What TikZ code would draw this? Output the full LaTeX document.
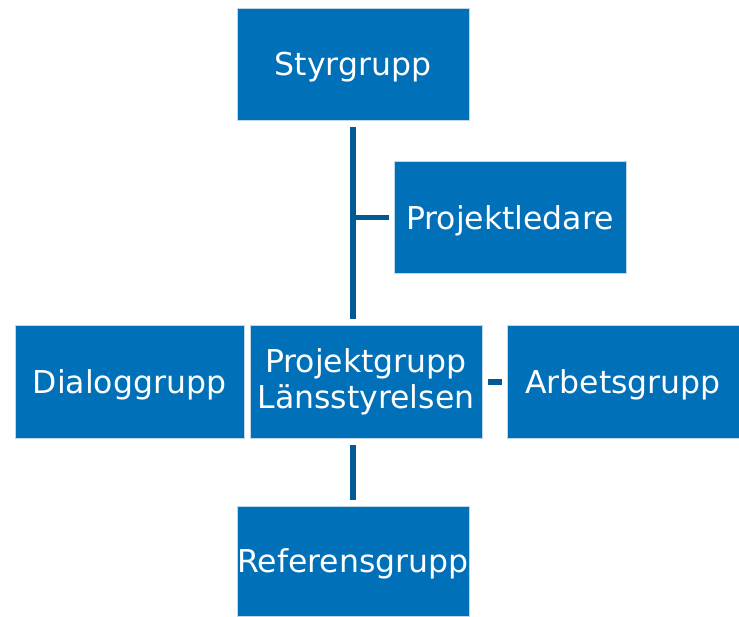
\documentclass[tikz,border=0pt]{standalone}
\usepackage{fontspec}
\setmainfont{DejaVu Sans}
\definecolor{boxblue}{RGB}{0,112,185}
\definecolor{lineblue}{RGB}{0,90,150}
\definecolor{rimblue}{RGB}{190,215,235}
\begin{document}
\begin{tikzpicture}[x=1pt,y=-1pt,
  box/.style={rectangle, fill=boxblue, draw=rimblue, line width=0.8pt,
    text=white, font=\fontsize{31.5}{36}\selectfont, inner sep=0pt,
    minimum width=232pt, minimum height=112pt},
  one/.style={text height=23pt, text depth=0pt},
  conn/.style={draw=lineblue, line width=5.5pt}]
\useasboundingbox (0,0) rectangle (739,616);
\node[box,one] (styr) at (353,64) {Styrgrupp};
\node[box,one] (pl) at (510,217.5) {Projektledare};
\node[box,one,minimum width=229pt, minimum height=113pt] (dg) at (129.5,382) {Dialoggrupp};
\node[box,align=center,minimum height=113pt] (pg) at (366,382) {Projektgrupp\\Länsstyrelsen};
\node[box,one,minimum height=113pt] (ag) at (623,382) {Arbetsgrupp};
\node[box,one,minimum height=110pt] (ref) at (353,561) {Referensgrupp};
\coordinate (top) at ([yshift=-7pt]styr.south);
\coordinate (bot) at ([yshift=6pt]styr.south |- pg.north);
\draw[conn] (top) -- (bot);
\draw[conn] ([xshift=-1pt]top |- pl.west) -- ([xshift=-5pt]pl.west);
\draw[conn] ([xshift=6pt]pg.east) -- ([xshift=-5pt]ag.west);
\draw[conn] ([yshift=-6pt]pg.south -| styr.south) -- ([yshift=6pt]ref.north);
\end{tikzpicture}
\end{document}
